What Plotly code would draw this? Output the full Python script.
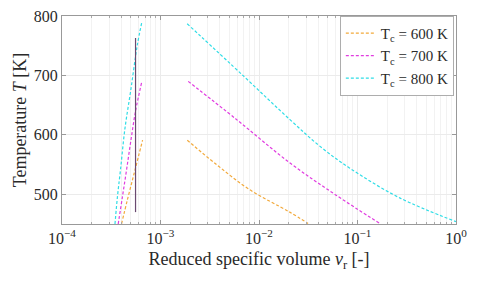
import plotly.graph_objects as go

# Liquid-side (left) branches
liq_v_600 = [4.02e-4, 4.6e-4, 5.3e-4, 6.0e-4, 6.58e-4]
liq_T_600 = [450, 490, 530, 565, 591]
liq_v_700 = [3.72e-4, 4.1e-4, 4.53e-4, 5.0e-4, 5.58e-4, 6.43e-4]
liq_T_700 = [450, 495, 542, 590, 640, 688]
liq_v_800 = [3.45e-4, 3.65e-4, 3.93e-4, 4.35e-4, 5.0e-4, 5.8e-4, 6.43e-4]
liq_T_800 = [450, 495, 542, 610, 676, 750, 788]

# Vapour-side (right) branches
vap_v_600 = [1.87e-3, 3.7e-3, 8.0e-3, 0.0205, 0.0315]
vap_T_600 = [591, 550, 508, 470, 451]
vap_v_700 = [1.91e-3, 5.9e-3, 0.0205, 0.06, 0.168]
vap_T_700 = [690, 626, 553, 499, 451]
vap_v_800 = [1.866e-3, 6.86e-3, 0.0205, 0.0414, 0.0834, 0.268, 1.0]
vap_T_800 = [787, 700, 626, 581, 544, 494, 454]

# Solid vertical line
line_v = [5.58e-4, 5.58e-4]
line_T = [470, 763]

x_tick_vals = [1e-4, 1e-3, 1e-2, 1e-1, 1]
x_tick_text = ["10<sup>−4</sup>", "10<sup>−3</sup>", "10<sup>−2</sup>", "10<sup>−1</sup>", "10<sup>0</sup>"]
y_tick_vals = [500, 600, 700, 800]

colors = {"600": "#F2A93B", "700": "#E13CE0", "800": "#2FDDE6"}
labels = {"600": "T<sub>c</sub> = 600 K", "700": "T<sub>c</sub> = 700 K", "800": "T<sub>c</sub> = 800 K"}

fig = go.Figure()
sets = {
    "600": (liq_v_600, liq_T_600, vap_v_600, vap_T_600),
    "700": (liq_v_700, liq_T_700, vap_v_700, vap_T_700),
    "800": (liq_v_800, liq_T_800, vap_v_800, vap_T_800),
}
dash = "3px,2px"
for k, (lv, lT, vv, vT) in sets.items():
    fig.add_trace(go.Scatter(x=lv, y=lT, mode="lines", name=labels[k],
                             line=dict(color=colors[k], width=1.2, dash=dash, shape="spline", smoothing=1.0)))
for k, (lv, lT, vv, vT) in sets.items():
    fig.add_trace(go.Scatter(x=vv, y=vT, mode="lines", name=labels[k], showlegend=False,
                             line=dict(color=colors[k], width=1.2, dash=dash, shape="spline", smoothing=1.0)))

fig.add_trace(go.Scatter(x=line_v, y=line_T, mode="lines", showlegend=False,
                         line=dict(color="#6a4a70", width=1.2)))

minor_vals = [m * 10 ** e for e in range(-4, 0) for m in range(2, 10)]

font_family = "Liberation Serif, DejaVu Serif, serif"
fig.update_layout(
    width=480, height=285,
    margin=dict(l=62, r=24, t=16, b=61),
    paper_bgcolor="white", plot_bgcolor="white",
    font=dict(family=font_family, size=16, color="#2a2a2a"),
    showlegend=True, hovermode=False,
    legend=dict(x=0.995, y=1.0, xanchor="right", yanchor="top",
                bgcolor="white", bordercolor="#999", borderwidth=0.8,
                font=dict(size=15), tracegroupgap=0, itemwidth=30),
    xaxis=dict(type="log", range=[-4, 0], tickmode="array", tickvals=x_tick_vals, ticktext=x_tick_text,
               automargin=False,
               showline=True, linecolor="#999", mirror="ticks", ticks="inside", ticklen=4,
               tickcolor="#999", showgrid=True, gridcolor="#ebebeb",
               minor=dict(tickmode="array", tickvals=minor_vals, showgrid=True, gridcolor="#f2f2f2",
                          ticks="inside", ticklen=2, tickcolor="#aaa"),
               title=dict(text="Reduced specific volume <i>v</i><sub>r</sub> [-]", font=dict(size=18), standoff=6),
               zeroline=False),
    yaxis=dict(range=[450, 800], tickmode="array", tickvals=y_tick_vals, automargin=False,
               showline=True, linecolor="#999", mirror="ticks", ticks="inside", ticklen=4,
               tickcolor="#999", showgrid=True, gridcolor="#ebebeb",
               title=dict(text="Temperature <i>T</i> [K]", font=dict(size=18), standoff=2),
               zeroline=False),
)

fig.write_html("out.html", config={"displayModeBar": False, "staticPlot": True},
               post_script="document.body.style.margin='0';document.body.style.padding='0';")
